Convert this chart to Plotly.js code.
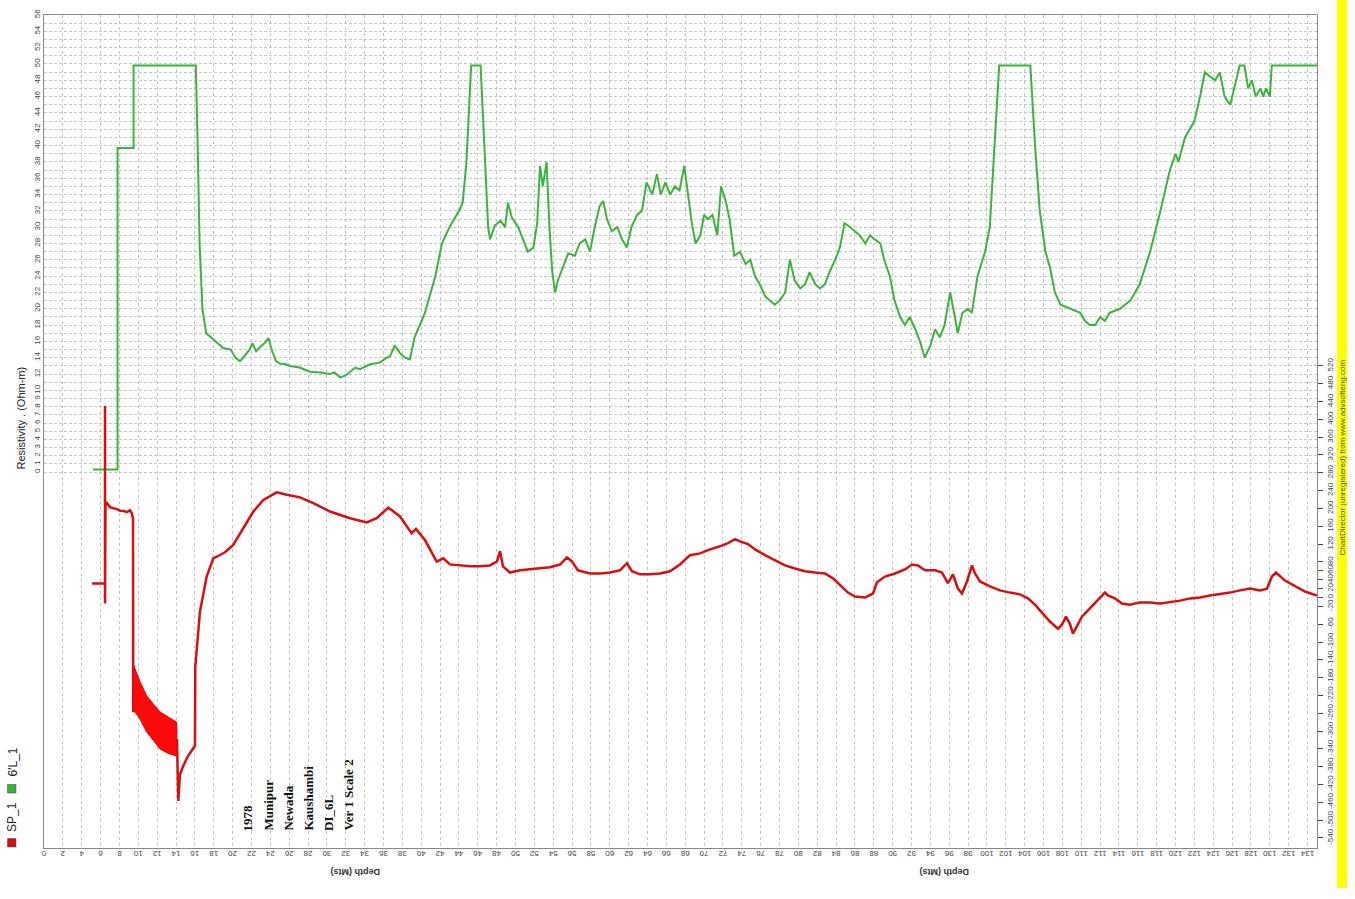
<!DOCTYPE html>
<html>
<head>
<meta charset="utf-8">
<script src="https://cdn.plot.ly/plotly-3.0.1.min.js"></script>
<style>html,body{margin:0;padding:0;background:#fff;}#chart{width:1355px;height:899px;}</style>
</head>
<body>
<div id="chart"></div>
<script>
// ---------- DATA ----------
// 6'L_1 resistivity (Ohm-m) vs depth (Mts)
var resDepth = [5.2,7.8,7.8,9.5,9.5,16.1,16.3,16.5,16.8,17.2,18.0,19.0,19.8,20.3,20.8,21.3,21.8,22.1,22.5,22.9,23.4,23.8,24.2,24.6,25.0,25.6,26.1,27.1,28.2,29.3,30.3,30.8,31.4,31.9,32.4,33.0,33.5,34.6,35.6,36.2,36.7,37.2,37.8,38.3,38.8,39.3,40.4,41.5,42.2,43.0,44.1,44.4,44.8,45.3,46.3,46.7,47.1,47.3,47.8,48.4,48.9,49.2,49.6,50.3,51.0,51.3,51.9,52.3,52.6,52.9,53.3,53.6,53.9,54.2,54.5,55.0,55.6,56.3,56.8,57.4,57.9,58.4,58.9,59.3,59.7,60.2,60.8,61.3,61.8,62.3,62.9,63.4,63.9,64.5,65.0,65.4,65.9,66.4,66.9,67.4,67.9,68.3,68.7,69.1,69.6,70.0,70.4,70.9,71.4,71.8,72.3,72.7,73.2,73.8,74.4,74.9,75.4,75.9,76.5,77.0,77.5,78.0,78.6,79.1,79.6,80.2,80.7,81.2,81.8,82.3,82.8,83.3,83.9,84.4,84.9,85.5,86.0,86.5,87.1,87.6,88.1,88.7,89.1,89.7,90.2,90.8,91.3,91.8,92.4,92.9,93.4,94.0,94.5,95.0,95.5,96.1,96.6,96.9,97.4,98.0,98.4,99.0,99.8,100.3,100.8,101.3,104.6,105.1,105.6,106.2,106.7,107.2,107.8,108.8,109.9,110.4,110.9,111.5,112.0,112.5,113.0,114.1,115.2,116.2,117.3,118.4,119.4,120.0,120.3,121.0,122.0,122.6,123.1,123.6,124.2,124.7,125.2,125.8,126.3,126.8,127.3,127.7,128.1,128.5,129.0,129.3,129.6,130.0,130.2,135.0];
var resValue = [0.3,0.3,39.7,39.7,49.8,49.8,40,28,20,17,16.2,15.2,15,14,13.6,14.3,15,15.8,14.8,15.3,15.8,16.4,14.8,13.6,13.3,13.2,13,12.8,12.3,12.2,12,12.2,11.6,11.8,12.2,12.8,12.6,13.2,13.4,13.9,14.2,15.5,14.5,14,13.8,16.5,19.5,24,28,30,32.2,33,38,49.8,49.8,40,30,28.5,30.2,30.8,30,33,31.2,30,28,27,27.5,30.5,37.5,35,38,30,24.5,22,23.5,25,26.8,26.5,28,28.5,27,30,32.5,33.2,31,29.5,30,28.5,27.5,30,31.5,32,35.5,34,36.5,34,35.5,34,35,34.5,37.5,34,30.5,28,29,31.5,31,31.5,29,35,33.2,31,26.5,27,25.5,26,24,23,21.5,21,20.5,21,22,26,23.5,22.5,23,24.5,23,22.5,23,24.5,26,27.5,30.5,30,29.5,29,28,29,28.5,28,26,24,21,19,18,19,17.5,16,14,15.5,17.5,16.5,18,22,19,17,19.5,20,19.5,24,27,30,40,49.8,49.8,40,32,27,25,22,20.5,20,19.5,18.5,18,18,19,18.5,19.5,20,21,23,27,32,37,39,38,41,43,46,49,48.5,48,49,46,45,47.5,49.8,49.8,47,48,46,47,46,47,46,49.8,49.8];

// SP_1 (mV) vs depth (Mts); null = gap where the noisy band is drawn
var spDepth = [5.1,6.47,6.47,6.47,6.52,6.68,7.0,7.32,7.74,8.06,8.48,8.80,9.12,9.30,9.44,9.46,null,14.1,14.24,14.42,14.77,15.27,16.01,16.04,16.22,16.54,17.25,17.95,18.66,19.19,20.07,21.13,22.2,23.26,24.68,25.74,27.15,28.56,30.33,32.45,34.22,35.28,36.51,37.75,38.99,39.45,40.40,41.64,42.34,43.05,44.11,45.17,46.24,47.30,48.04,48.36,48.67,49.42,50.48,51.54,52.60,53.66,54.72,55.46,55.99,56.63,57.90,58.96,60.02,61.08,61.82,62.35,63.20,64.26,65.32,66.38,67.44,68.51,69.57,70.63,71.69,72.53,73.28,73.81,74.66,75.40,76.46,77.52,78.58,79.64,80.70,81.76,82.82,83.67,84.41,85.26,86.00,87.06,87.91,88.33,89.18,90.24,91.30,92.05,92.68,93.43,94.49,95.23,95.86,96.39,96.92,97.35,97.88,98.41,98.73,99.26,100.32,101.38,102.44,103.50,104.35,105.09,105.83,106.68,107.53,107.95,108.38,108.80,109.12,109.54,110.07,110.71,111.45,111.98,112.51,112.83,113.57,114.32,115.16,116.22,117.29,118.35,119.41,120.47,121.53,122.59,123.65,124.71,125.77,126.83,127.89,128.95,129.69,130.22,130.65,131.60,132.66,133.72,135.0];
var spValue = [31.6,31.6,430,-13.5,207,212,203,200.7,198.4,194.6,194,191.7,196,189.4,178,-257,null,-318,-457,-397,-378,-356,-333,-156,-115,-31.6,47,88,95.4,101.5,118,155.6,193,219,236,230.7,224.8,212,193,178,168.4,178,202,182,144,154,129,80.5,88,74.4,72,70,70,72,81,104,70,56,61,63,65,68,74,90,81,61,54,54,56,61,77,59,52,52,54,59,74,95,99,108,115,122,131,126,120,108,95,83,72,65,59,56,54,43,29,11,2,0,9,34,47,54,63,74,72,61,61,56,32,52,20,9,36,72,54,36,25,16,11,7,-2,-16,-34,-54,-70,-61,-43,-59,-81,-65,-43,-29,-13.5,-2,11,4.5,-2,-13.5,-16,-11,-11,-13.5,-11,-7,-2,0,4.5,7,11,16,20,16,20,47,56,38,25,13.5,4.5];

// SP_1 noisy band envelope between 9.6 and 14.1 Mts
var bandDepth = [9.47,9.65,10.18,10.89,11.56,12.30,13.15,14.07,14.1];
var bandTop    = [-150,-160,-189,-221,-239,-257,-268,-280,-300];
var bandBottom = [-257,-257,-273,-302,-320,-340,-350,-356,-330];

// axis ticks
var depthTicks = [];
for (var t = 0; t <= 134; t += 2) depthTicks.push(t);
var resTicks = [0,1,2,3,4,5,6,7,8,9,10,12,14,16,18,20,22,24,26,28,30,32,34,36,38,40,42,44,46,48,50,52,54,56];
var resMinor = [11,13,15,17,19,21,23,25,27,29,31,33,35,37,39,41,43,45,47,49,51,53,55];
var spTicks = [520,480,440,400,360,320,280,240,200,160,120,80,60,40,20,0,-20,-60,-100,-140,-180,-220,-260,-300,-340,-380,-420,-460,-500,-540];

var notes = ["1978","Munipur","Newada","Kaushambi","DI_6L","Ver 1 Scale 2"];

// ---------- CHART ----------
var RED = '#d80f0f', GREEN = '#3cb43c';
var bandX = bandDepth.concat(bandDepth.slice().reverse());
var bandY = bandTop.concat(bandBottom.slice().reverse());

var traces = [
  {x: resDepth, y: resValue, type: 'scatter', mode: 'lines', name: "6'L_1",
   line: {color: GREEN, width: 2}, yaxis: 'y', showlegend: false},
  {x: bandX, y: bandY, type: 'scatter', mode: 'lines', fill: 'toself',
   fillcolor: '#ff0a0a', line: {color: '#e00000', width: 1}, yaxis: 'y2', showlegend: false, hoverinfo: 'skip'},
  {x: spDepth, y: spValue, type: 'scatter', mode: 'lines', name: 'SP_1', connectgaps: false,
   line: {color: RED, width: 2.5}, yaxis: 'y2', showlegend: false}
];

var tickFont = {family: 'Liberation Sans Narrow, Arial Narrow, Liberation Sans, Arial', size: 8, color: '#444'};
var plotL = 44, plotR = 1317, plotT = 15, plotB = 848;
var W = plotR - plotL, H = plotB - plotT;
function px(x){ return (x - plotL) / W; }
function py(y){ return (plotB - y) / H; }

var annotations = [];
var noteX = [247, 268, 288, 308, 328, 348];
notes.forEach(function(s, i){
  annotations.push({xref: 'paper', yref: 'paper', x: px(noteX[i]), y: py(833), text: '<b>' + s + '</b>',
    showarrow: false, textangle: -90, xanchor: 'center', yanchor: 'bottom',
    font: {family: 'Liberation Serif, Times New Roman, serif', size: 13, color: '#111'}});
});
[355, 944].forEach(function(cx){
  annotations.push({xref: 'paper', yref: 'paper', x: px(cx), y: py(872), text: '<b>Depth (Mts)</b>',
    showarrow: false, textangle: 180, xanchor: 'center', yanchor: 'middle',
    font: {family: 'Liberation Sans, Arial', size: 9, color: '#333'}});
});
annotations.push({xref: 'paper', yref: 'paper', x: px(20), y: py(472), text: 'Resistivity . (Ohm-m)',
  showarrow: false, textangle: -90, xanchor: 'center', yanchor: 'bottom',
  font: {family: 'Liberation Sans Narrow, Arial Narrow, Liberation Sans', size: 11, color: '#222'}});
annotations.push({xref: 'paper', yref: 'paper', x: px(12), y: py(834), text: 'SP_1',
  showarrow: false, textangle: -90, xanchor: 'center', yanchor: 'bottom',
  font: {family: 'Liberation Sans, Arial', size: 12, color: '#222'}});
annotations.push({xref: 'paper', yref: 'paper', x: px(12), y: py(779), text: '6\'L_1',
  showarrow: false, textangle: -90, xanchor: 'center', yanchor: 'bottom',
  font: {family: 'Liberation Sans, Arial', size: 12, color: '#222'}});
annotations.push({xref: 'paper', yref: 'paper', x: px(1342.5), y: py(458), text: 'ChartDirector (unregistered) from www.advsofteng.com',
  showarrow: false, textangle: -90, xanchor: 'center', yanchor: 'middle',
  font: {family: 'Liberation Sans Narrow, Arial Narrow, Liberation Sans', size: 8, color: '#555'}});

var layout = {
  width: 1355, height: 899,
  margin: {l: plotL, r: 1355 - plotR, t: plotT, b: 899 - plotB, pad: 0},
  paper_bgcolor: '#fff', plot_bgcolor: '#fff',
  showlegend: false,
  xaxis: {range: [0, 135], tickmode: 'array', tickvals: depthTicks, ticktext: depthTicks.map(String),
    tickangle: 180, tickfont: tickFont, ticks: '', showgrid: true, gridcolor: '#c4c4c4', griddash: 'dot', gridwidth: 1,
    showline: true, linecolor: '#888', linewidth: 1, mirror: true, zeroline: false, fixedrange: true},
  yaxis: {range: [-46.07, 56], tickmode: 'array', tickvals: resTicks, ticktext: resTicks.map(String),
    tickangle: -90, tickfont: tickFont, ticks: '', showgrid: true, gridcolor: '#c8c8c8', griddash: '3px,2px', gridwidth: 1,
    minor: {tickmode: 'array', tickvals: resMinor, showgrid: true, gridcolor: '#c8c8c8', griddash: '3px,2px', ticks: ''},
    showline: true, linecolor: '#888', linewidth: 1, mirror: true, zeroline: false, fixedrange: true},
  yaxis2: {range: [-562.5, 1308], overlaying: 'y', side: 'right', tickmode: 'array', tickvals: spTicks,
    ticktext: spTicks.map(String), tickangle: -90, tickfont: tickFont, ticks: 'outside', ticklen: 5, tickcolor: '#444',
    showgrid: false, zeroline: false, showline: false, fixedrange: true},
  shapes: [
    {type: 'rect', xref: 'paper', yref: 'paper', x0: px(1337), x1: px(1347), y0: py(888), y1: py(0),
     fillcolor: '#ffff00', line: {width: 0}, layer: 'below'},
    {type: 'rect', xref: 'paper', yref: 'paper', x0: px(7.5), x1: px(16), y0: py(847), y1: py(838.5),
     fillcolor: '#cc1111', line: {color: '#444', width: 0.5}},
    {type: 'rect', xref: 'paper', yref: 'paper', x0: px(7.5), x1: px(16), y0: py(793), y1: py(784.5),
     fillcolor: '#2fb52f', line: {color: '#444', width: 0.5}}
  ],
  annotations: annotations
};

Plotly.newPlot('chart', traces, layout, {displayModeBar: false, staticPlot: true});
</script>
</body>
</html>
